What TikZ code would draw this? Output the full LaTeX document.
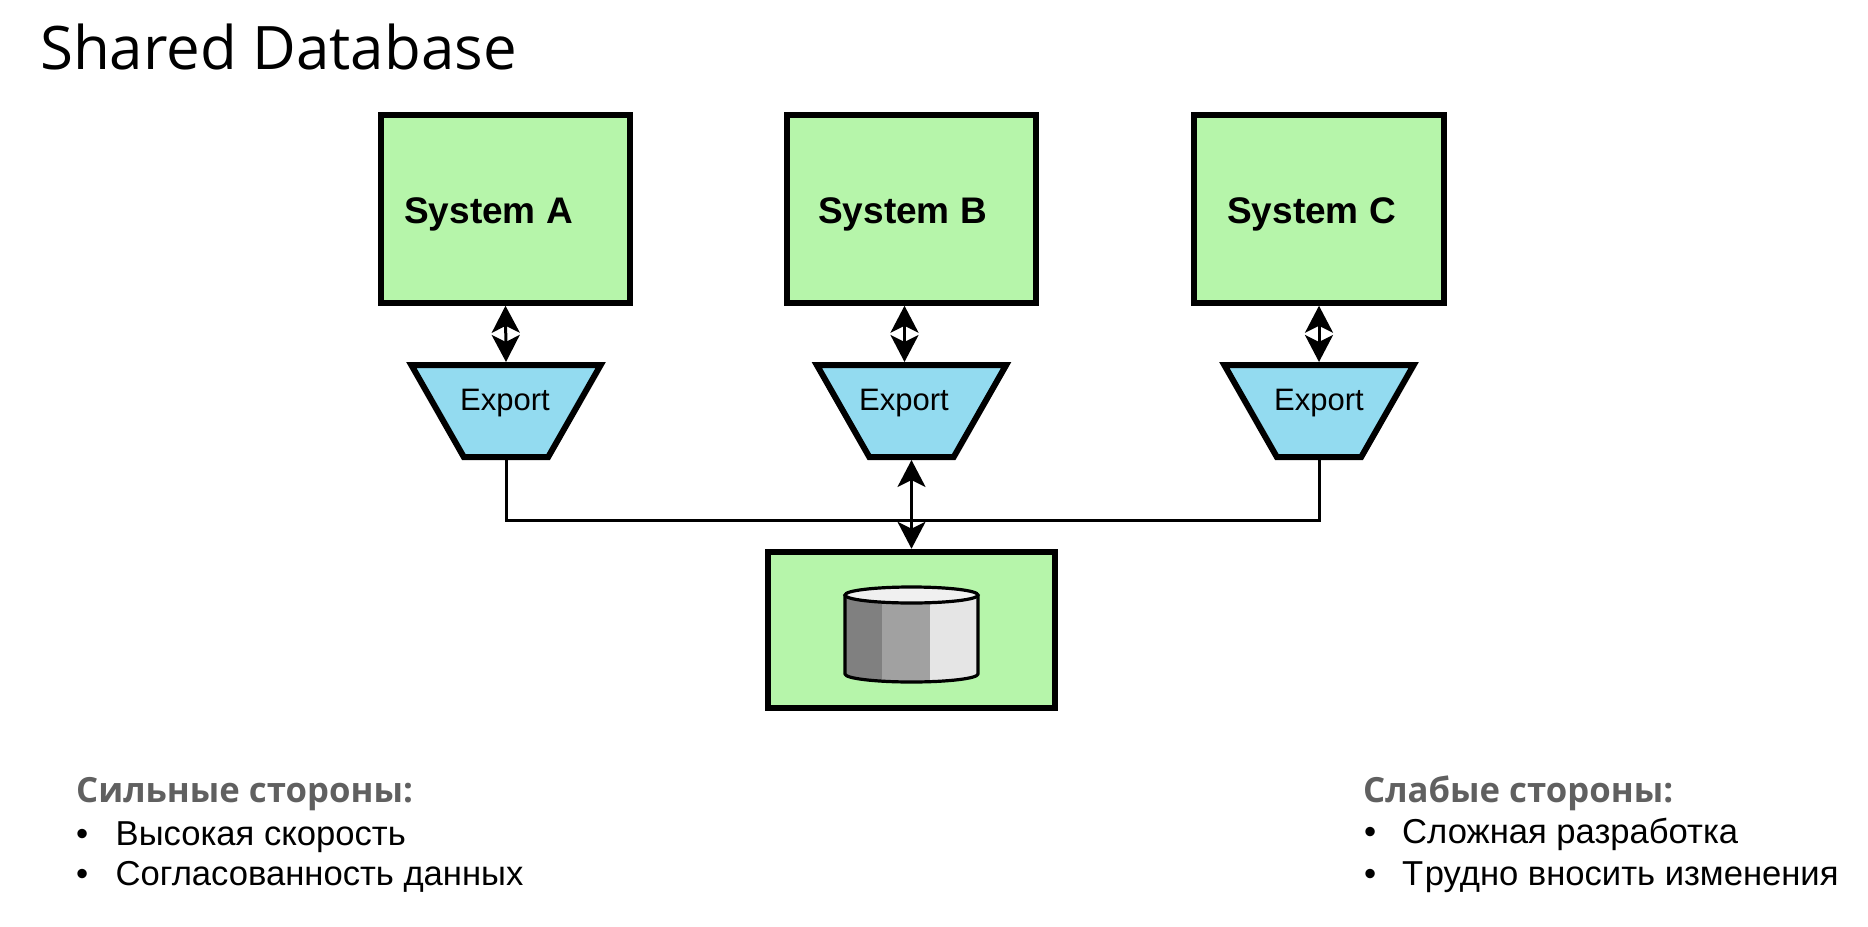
\documentclass[tikz,border=0pt]{standalone}
\usepackage{fontspec}
\setmainfont{Liberation Sans}
\newfontfamily\opensans{Open Sans}
\usetikzlibrary{arrows.meta,shapes.geometric}
\definecolor{boxgreen}{HTML}{B6F5AA}
\definecolor{expblue}{HTML}{93DBF0}
\definecolor{headgrey}{HTML}{606060}
\newcommand{\expbody}{\phantom{\rule{84.4pt}{92pt}}}
\tikzset{
  sysbox/.style={draw=black,fill=boxgreen,line width=6pt,minimum width=249.5pt,minimum height=187.5pt,inner sep=0pt},
  dbbox/.style={draw=black,fill=boxgreen,line width=6pt,minimum width=286.5pt,minimum height=156.5pt,inner sep=0pt},
  expshape/.style={trapezium,shape border rotate=180,trapezium angle=60.3,draw=black,fill=expblue,line width=6pt,inner sep=0pt},
  systext/.style={anchor=base west,inner sep=0pt,font=\bfseries\fontsize{37}{40}\selectfont},
  exptext/.style={anchor=base,inner sep=0pt,font=\fontsize{31}{34}\selectfont},
  titletext/.style={anchor=base west,inner sep=0pt,font=\opensans\fontsize{60}{66}\selectfont},
  headtext/.style={anchor=base west,inner sep=0pt,text=headgrey,font=\opensans\bfseries\fontsize{34.7}{38}\selectfont},
  itemtext/.style={anchor=base west,inner sep=0pt,font=\fontsize{34.6}{38}\selectfont},
  dbl/.style={{Stealth[length=27pt,width=28pt,inset=7pt]}-{Stealth[length=27pt,width=28pt,inset=7pt]},line width=3pt},
  wire/.style={line width=3pt}
}
\begin{document}
\begin{tikzpicture}[x=1pt,y=-1pt]
\useasboundingbox (0,0) rectangle (1868,926);
\node[titletext] (title) at (40,69) {Shared Database};
% systems
\node[sysbox] (sysA) at (505.5,209) {};
\node[sysbox] (sysB) at (911.5,209) {};
\node[sysbox] (sysC) at (1319,209) {};
\node[systext] (lblA) at (404,223) {System A};
\node[systext] (lblB) at (818,223) {System B};
\node[systext] (lblC) at (1227,223) {System C};
% exports
\node[expshape] (expA) at (506,411) {\expbody};
\node[expshape] (expB) at (911.5,411) {\expbody};
\node[expshape] (expC) at (1319,411) {\expbody};
\node[exptext] (txtA) at (505,410) {Export};
\node[exptext] (txtB) at (904,410) {Export};
\node[exptext] (txtC) at (1319,410) {Export};
% database
\node[dbbox] (db) at (911.5,630) {};
% cylinder
\begin{scope}
  \clip (845,595) -- (845,674) .. controls (845,678.4) and (875,682) .. (911.5,682) .. controls (948,682) and (978,678.4) .. (978,674) -- (978,595) -- cycle;
  \fill[fill=black!50] (840,585) rectangle (882,690);
  \fill[fill=black!37] (882,585) rectangle (930,690);
  \fill[fill=black!10] (930,585) rectangle (985,690);
\end{scope}
\draw[line width=3.2pt,line join=round] (845,595) -- (845,674) .. controls (845,678.4) and (875,682) .. (911.5,682) .. controls (948,682) and (978,678.4) .. (978,674) -- (978,595);
\draw[line width=3.2pt,fill=black!6] (911.5,595) ellipse [x radius=66.5,y radius=8];
% connectors
\coordinate (bus) at (911.5,520.5);
\draw[wire] (expA.south) |- (bus) -| (expC.south);
\draw[dbl] ([xshift=-7pt]sysB.south) -- ([xshift=-7pt]expB.north);
\draw[dbl] (sysA.south) -- (expA.north);
\draw[dbl] (sysC.south) -- (expC.north);
\draw[dbl] (expB.south) -- (db.north);
% lists
\node[headtext] (hl) at (76,802) {Сильные стороны:};
\node[itemtext] (bl1) at (76,845) {•};
\node[itemtext] (il1) at (115.5,845) {Высокая скорость};
\node[itemtext] (bl2) at (76,885) {•};
\node[itemtext] (il2) at (115.5,885) {Согласованность данных};
\node[headtext] (hr) at (1363,802) {Слабые стороны:};
\node[itemtext] (br1) at (1364,843) {•};
\node[itemtext] (ir1) at (1402,843) {Сложная разработка};
\node[itemtext] (br2) at (1364,885) {•};
\node[itemtext] (ir2) at (1402,885) {Т\kern1.5pt рудно вносить изменения};
\end{tikzpicture}
\end{document}
